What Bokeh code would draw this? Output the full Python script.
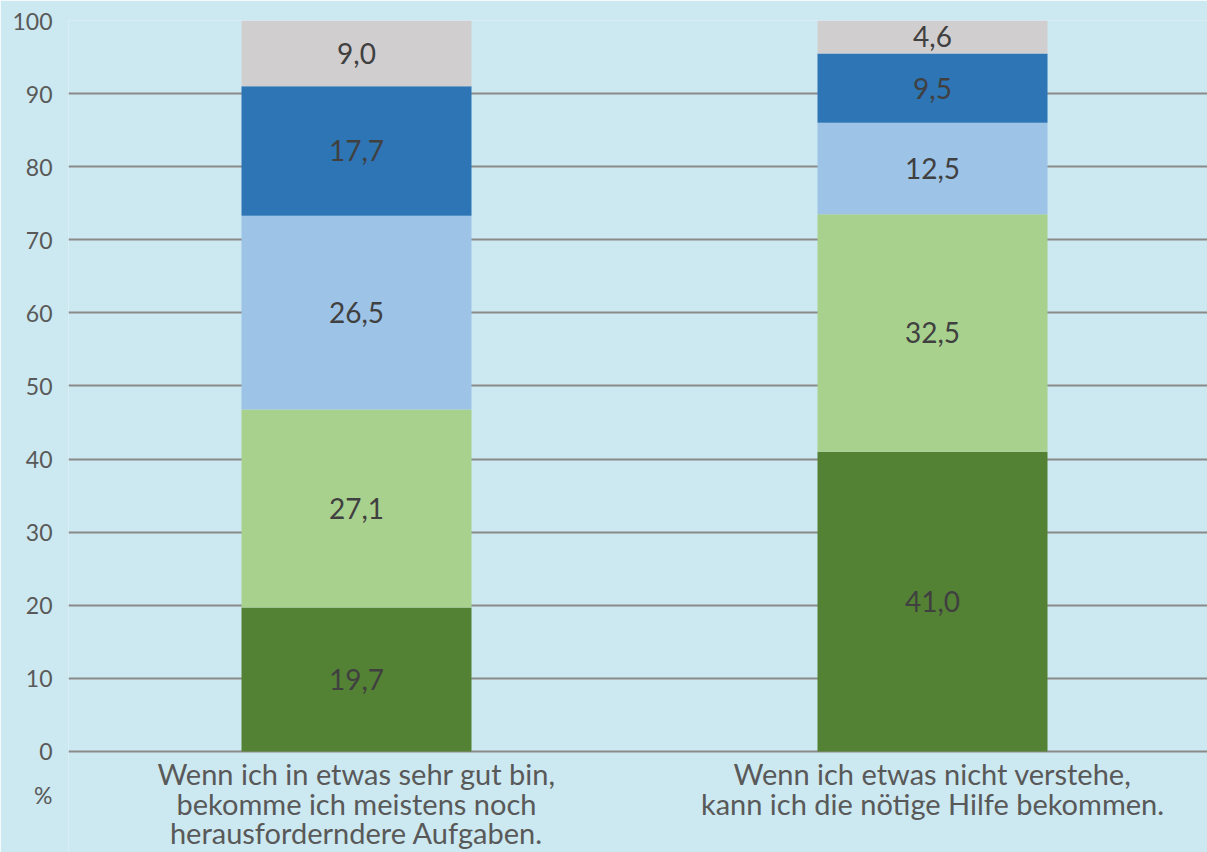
import numpy as np
from bokeh.plotting import figure
from bokeh.models import Range1d, FixedTicker, ColumnDataSource
from bokeh.core.properties import value
from bokeh.embed import file_html
from bokeh.resources import INLINE

categories = ["Wenn ich in etwas sehr gut bin,\nbekomme ich meistens noch\nherausforderndere Aufgaben.",
              "Wenn ich etwas nicht verstehe,\nkann ich die nötige Hilfe bekommen."]
seg1 = [19.7, 41.0]
seg2 = [27.1, 32.5]
seg3 = [26.5, 12.5]
seg4 = [17.7, 9.5]
seg5 = [9.0, 4.6]
seg_labels = [["19,7", "41,0"], ["27,1", "32,5"], ["26,5", "12,5"], ["17,7", "9,5"], ["9,0", "4,6"]]
colors = ["#548235", "#a9d18e", "#9dc3e6", "#2e75b6", "#d0cecf"]
y_ticks = [0, 10, 20, 30, 40, 50, 60, 70, 80, 90, 100]
unit_label = "%"

BG = "#cce8f0"
FONT = "Lato"
UNIT_POS = -6.0      # vertical position of the "%" unit label (below the 0 tick)
CAT_LABEL_Y = -0.6   # top of the category labels

p = figure(width=1207, height=852, output_backend="svg", toolbar_location=None,
           x_range=Range1d(-0.5, 1.4774), y_range=Range1d(-13.82, 100),
           background_fill_color=BG, border_fill_color=BG,
           min_border_left=68, min_border_right=0, min_border_top=20, min_border_bottom=0)
p.outline_line_color = None

xs = [0, 1]
segs = [seg1, seg2, seg3, seg4, seg5]

p.ygrid.ticker = FixedTicker(ticks=y_ticks)
p.ygrid.grid_line_color = "#8a8a8a"
p.ygrid.grid_line_width = 2
p.xgrid.grid_line_color = None

bottoms = np.zeros(2)
for s, c, labs in zip(segs, colors, seg_labels):
    tops = bottoms + np.array(s)
    src = ColumnDataSource(dict(x=xs, bottom=bottoms.copy(), top=tops, mid=(bottoms + tops) / 2, lab=labs))
    p.vbar(x="x", bottom="bottom", top="top", width=0.3993, source=src, fill_color=c, line_color=None)
    p.text(x="x", y="mid", text="lab", source=src, text_align="center", text_baseline="middle",
           text_font=value(FONT), text_font_size="28px", text_color="#404040")
    bottoms = tops

cat_src = ColumnDataSource(dict(x=xs, y=[CAT_LABEL_Y] * 2, t=categories))
p.text(x="x", y="y", text="t", source=cat_src, text_align="center", text_baseline="top",
       text_font=value(FONT), text_font_size="29px", text_color="#595959", text_line_height=0.85)

p.yaxis.ticker = FixedTicker(ticks=y_ticks + [UNIT_POS])
p.yaxis.major_label_overrides = {UNIT_POS: unit_label}
p.yaxis.axis_line_color = None
p.yaxis.major_tick_line_color = None
p.yaxis.minor_tick_line_color = None
p.yaxis.major_label_standoff = 10
p.yaxis.major_label_text_font = FONT
p.yaxis.major_label_text_font_size = "23px"
p.yaxis.major_label_text_color = "#595959"

p.xaxis.visible = False

open("out.html", "w").write(file_html(p, INLINE))
